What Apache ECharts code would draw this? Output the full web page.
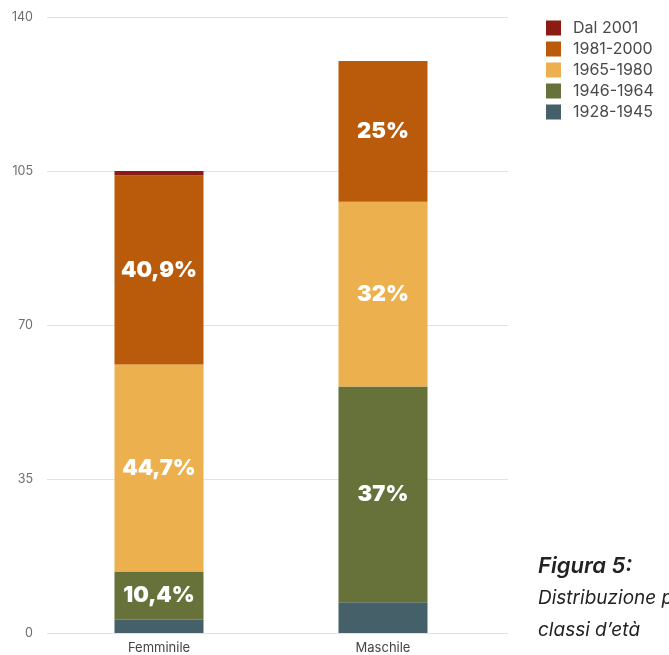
<!DOCTYPE html>
<html>
<head>
<meta charset="utf-8">
<script src="https://cdn.jsdelivr.net/npm/echarts@6/dist/echarts.min.js"></script>
<style>
  html, body { margin: 0; padding: 0; background: #ffffff; }
  #chart { width: 669px; height: 655px; }
</style>
</head>
<body>
<div id="chart"></div>
<script>
// Respondents by gender and birth cohort
const categories = ['Femminile', 'Maschile'];
const cohorts = ['1928-1945', '1946-1964', '1965-1980', '1981-2000', 'Dal 2001'];
const cohortColors = ['#46606a', '#67713a', '#ecb04e', '#ba5b0b', '#8b1c14'];
const v1928_1945 = [3, 7];
const v1946_1964 = [11, 49];
const v1965_1980 = [47, 42];
const v1981_2000 = [43, 32];
const vDal2001 = [1, 0];
// Share labels shown inside the segments ('' = no label)
const lbl1928_1945 = ['', ''];
const lbl1946_1964 = ['10,4%', '37%'];
const lbl1965_1980 = ['44,7%', '32%'];
const lbl1981_2000 = ['40,9%', '25%'];
const lblDal2001 = ['', ''];
const yTicks = [0, 35, 70, 105, 140];

const seriesValues = [v1928_1945, v1946_1964, v1965_1980, v1981_2000, vDal2001];
const seriesLabels = [lbl1928_1945, lbl1946_1964, lbl1965_1980, lbl1981_2000, lblDal2001];

const fontFamily = "Inter, 'Open Sans', sans-serif";
const yMin = yTicks[0];
const yMax = yTicks[yTicks.length - 1];
const yStep = yTicks[1] - yTicks[0];

const chart = echarts.init(document.getElementById('chart'), null, { renderer: 'canvas' });

const series = cohorts.map((name, i) => ({
  name: name,
  type: 'bar',
  stack: 'totale',
  xAxisIndex: 0,
  yAxisIndex: 0,
  barWidth: 89,
  itemStyle: { color: cohortColors[i] },
  label: {
    show: true,
    position: 'inside',
    color: '#ffffff',
    fontFamily: "Inter, 'Open Sans', sans-serif",
    fontWeight: 900,
    fontSize: 22,
    formatter: p => seriesLabels[i][p.dataIndex]
  },
  data: seriesValues[i]
}));

chart.setOption({
  animation: false,
  textStyle: { fontFamily: fontFamily },
  legend: {
    orient: 'vertical',
    left: 541,
    top: 15,
    itemWidth: 15,
    itemHeight: 15,
    itemGap: 5,
    icon: 'rect',
    data: cohorts.slice().reverse(),
    textStyle: { color: '#4a4a4a', fontSize: 16, fontFamily: fontFamily, padding: [0, 0, 0, 7] }
  },
  grid: [
    // plotting area for the bars
    { left: 47, right: 174, top: 17, bottom: 22 },
    // wider area carrying the horizontal gridlines
    { left: 47, right: 161, top: 17, bottom: 22 }
  ],
  xAxis: [
    {
      type: 'category',
      gridIndex: 0,
      data: categories,
      axisLine: { show: false },
      axisTick: { show: false },
      axisLabel: { color: '#444444', fontSize: 13, margin: 9, fontFamily: fontFamily }
    },
    {
      type: 'category',
      gridIndex: 1,
      data: categories,
      show: false
    }
  ],
  yAxis: [
    {
      type: 'value',
      gridIndex: 0,
      min: yMin, max: yMax, interval: yStep,
      axisLine: { show: false },
      axisTick: { show: false },
      axisLabel: { show: false },
      splitLine: { show: false }
    },
    {
      type: 'value',
      gridIndex: 1,
      min: yMin, max: yMax, interval: yStep,
      axisLine: { show: false },
      axisTick: { show: false },
      axisLabel: { color: '#6f6f6f', fontSize: 12.5, margin: 14, fontFamily: fontFamily },
      splitLine: { show: true, lineStyle: { color: '#e2e2e2', width: 1 } },
      z: 0
    }
  ],
  series: series,
  graphic: [
    {
      type: 'text',
      left: 538,
      top: 555,
      style: {
        text: 'Figura 5:',
        fill: '#222222',
        font: "italic 600 22px Inter, 'Open Sans', sans-serif"
      }
    },
    {
      type: 'text',
      left: 538,
      top: 589,
      style: {
        text: 'Distribuzione per',
        fill: '#222222',
        font: "italic 400 19px Inter, 'Open Sans', sans-serif"
      }
    },
    {
      type: 'text',
      left: 538,
      top: 621,
      style: {
        text: "classi d\u2019et\u00e0",
        fill: '#222222',
        font: "italic 400 19px Inter, 'Open Sans', sans-serif"
      }
    }
  ]
});
</script>
</body>
</html>
